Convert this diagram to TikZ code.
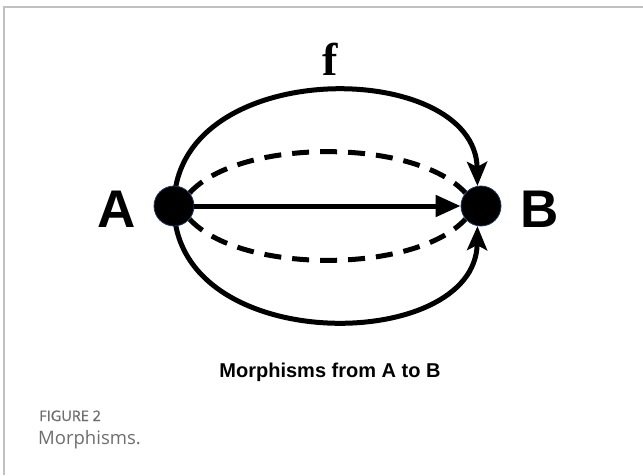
\documentclass[tikz,border=0pt]{standalone}
\usepackage{fontspec}
\setmainfont{Liberation Serif}
\setsansfont{Liberation Sans}
\newfontfamily\capfont{Open Sans}
\usetikzlibrary{arrows.meta,backgrounds}
\definecolor{dotrim}{HTML}{1F3864}
\definecolor{capgray}{HTML}{6E6E6E}
\definecolor{framegray}{HTML}{C0C0C0}

\begin{document}
\begin{tikzpicture}[x=1pt,y=-1pt,
  dot/.style={circle,fill=black,draw=dotrim,line width=.8pt,minimum size=40pt,inner sep=0pt},
  endlbl/.style={font=\fontsize{53}{60}\selectfont\sffamily\bfseries},
  arc/.style={line width=5pt,-{Stealth[length=24pt,width=20pt,inset=5pt]}},
  dsh/.style={line width=5pt,dash pattern=on 17pt off 11pt},
  capline/.style={anchor=base west,inner sep=0pt,capgray}]
\useasboundingbox (0,0) rectangle (643,475);
\draw[framegray,line width=1.5pt] (643,7)--(4,7)--(4,475);
% objects
\node[dot] (A) at (174,206) {};
\node[dot] (B) at (481,206) {};
\node[endlbl] (la) at (117,209) {A};
\node[endlbl] (lb) at (540,209) {B};
\node[font=\fontsize{46}{50}\selectfont\bfseries] (f) at (330,59) {f};
% morphisms
\begin{pgfonlayer}{background}
\draw[arc] (A.center) .. controls +(0,-151) and +(-2,-128) .. (B.100);
\draw[arc] (A.center) .. controls +(0,151) and +(-2,128) .. (B.-100);
\draw[dsh] (A.40) .. controls +(50,-55) and +(-50,-55) .. (B.140);
\draw[dsh] (A.-40) .. controls +(50,55) and +(-50,55) .. (B.-140);
\end{pgfonlayer}
\draw[line width=5pt,-{Triangle[length=25pt,width=21pt]}] (A) -- (B);
% captions
\node[anchor=base,font=\fontsize{20}{24}\selectfont\sffamily\bfseries] (title) at (330,377) {Morphisms from A to B};
\node[capline,font=\fontsize{14.5}{16}\selectfont\capfont\addfontfeature{FakeBold=1.2}] (fig) at (39,421) {FIGURE 2};
\node[capline,font=\fontsize{18.5}{22}\selectfont\capfont] (cap) at (38,444) {Morphisms.};
\end{tikzpicture}
\end{document}
